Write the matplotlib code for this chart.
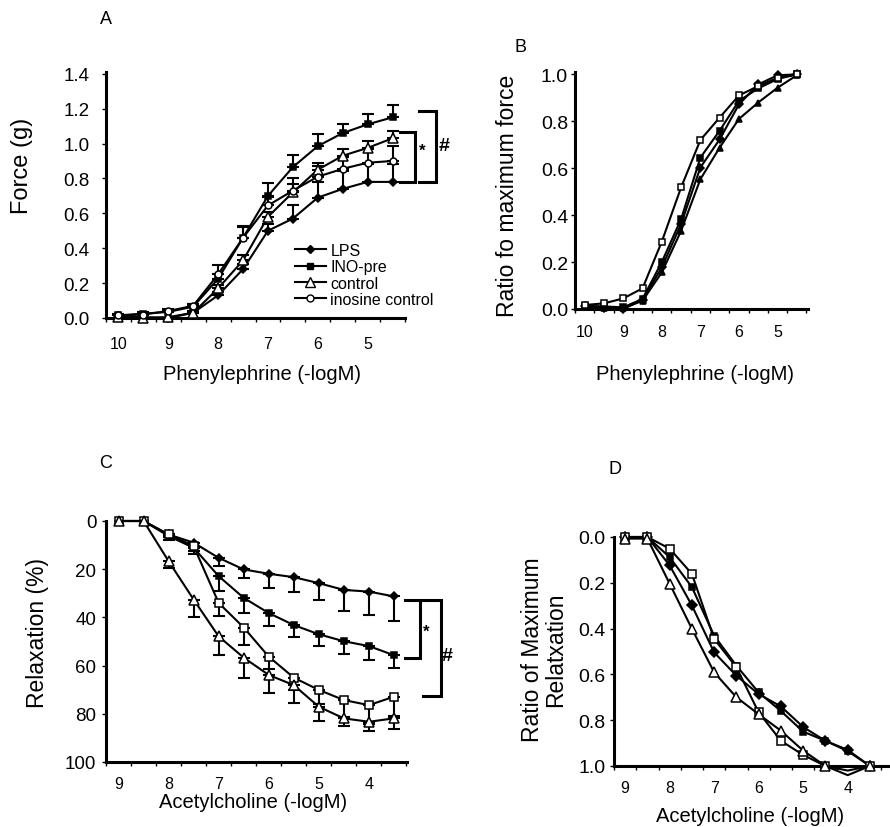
import numpy as np
import matplotlib.pyplot as plt
from matplotlib.lines import Line2D
from matplotlib.ticker import FormatStrFormatter

plt.rcParams['font.family'] = ['Liberation Sans', 'DejaVu Sans']

# ---- data ----
pe_x = [10, 9.5, 9, 8.5, 8, 7.5, 7, 6.5, 6, 5.5, 5, 4.5]
ach_x = [9, 8.5, 8, 7.5, 7, 6.5, 6, 5.5, 5, 4.5, 4, 3.5]

# A: force (g)
force_lps = [0.01, 0.005, 0.0, 0.03, 0.13, 0.28, 0.50, 0.57, 0.69, 0.74, 0.78, 0.78]
force_ino = [0.015, 0.025, 0.035, 0.065, 0.225, 0.46, 0.70, 0.865, 0.985, 1.06, 1.11, 1.15]
force_ctrl = [0.005, 0.0, 0.005, 0.03, 0.17, 0.33, 0.58, 0.72, 0.85, 0.93, 0.975, 1.03]
force_inos = [0.015, 0.02, 0.04, 0.07, 0.25, 0.46, 0.645, 0.73, 0.81, 0.855, 0.89, 0.90]
sem_force_lps = [0, 0, 0, 0.01, 0.02, 0.03, 0.04, 0.075, 0.09, 0.10, 0.10, 0.10]
sem_force_ino = [0.01, 0.01, 0.01, 0.015, 0.03, 0.065, 0.075, 0.07, 0.07, 0.05, 0.06, 0.07]
sem_force_ctrl = [0, 0, 0, 0.01, 0.02, 0.03, 0.03, 0.05, 0.04, 0.04, 0.04, 0.04]
sem_force_inos = [0.01, 0.01, 0.01, 0.01, 0.055, 0.06, 0.05, 0.07, 0.06, 0.07, 0.08, 0.085]

# B: ratio to maximum force
ratio_lps = [0.011, 0.006, 0.0, 0.04, 0.177, 0.362, 0.603, 0.723, 0.872, 0.957, 0.996, 1.0]
ratio_ino = [0.014, 0.011, 0.007, 0.043, 0.20, 0.383, 0.645, 0.76, 0.887, 0.94, 0.98, 1.0]
ratio_ctrl = [0.007, 0.003, 0.003, 0.035, 0.156, 0.333, 0.553, 0.688, 0.81, 0.88, 0.943, 0.996]
ratio_inos = [0.017, 0.024, 0.045, 0.088, 0.287, 0.518, 0.72, 0.816, 0.91, 0.95, 0.985, 1.0]

# C: relaxation (%)
relax_lps = [0, 0, 5.6, 9.0, 15.3, 20.1, 21.9, 23.3, 25.8, 28.6, 29.3, 31.3]
relax_ino = [0, 0, 6.25, 11.1, 22.9, 31.9, 38.2, 43.2, 47.0, 49.9, 51.9, 55.7]
relax_ctrl = [0, 0, 16.7, 32.6, 47.9, 56.7, 63.9, 68.1, 77.1, 81.9, 83.3, 81.9]
relax_inos = [0, 0, 5.6, 10.4, 34.0, 44.2, 56.3, 65.0, 70.1, 74.3, 76.4, 72.9]
sem_relax_lps = [0, 0, 1, 1.5, 3.5, 3.5, 6, 6, 7, 8.8, 9.7, 10.2]
sem_relax_ino = [0, 0, 1.5, 2.5, 6.3, 6.3, 5.3, 4.8, 5, 5.1, 5.9, 5.5]
sem_relax_ctrl = [0, 0, 3, 7.4, 7.5, 8.3, 7.6, 7.5, 5.8, 3, 4, 4.5]
sem_relax_inos = [0, 0, 1, 2, 5.6, 7.2, 5, 5, 6, 7, 8, 8]

# D: ratio of maximum relaxation
rrel_lps = [0.0, 0.0, 0.124, 0.299, 0.504, 0.606, 0.686, 0.74, 0.83, 0.89, 0.93, 1.0]
rrel_ino = [0.0, 0.0, 0.088, 0.219, 0.431, 0.562, 0.679, 0.76, 0.85, 0.89, 0.935, 1.0]
rrel_ctrl = [0.007, 0.007, 0.204, 0.401, 0.591, 0.70, 0.774, 0.846, 0.933, 1.0, 1.04, 1.0]
rrel_inos = [0.0, 0.0, 0.051, 0.161, 0.445, 0.569, 0.766, 0.89, 0.952, 1.0, 1.02, 1.0]

legend_labels = ['LPS', 'INO-pre', 'control', 'inosine control']

W, H = 890, 828
fig = plt.figure(figsize=(W / 100, H / 100), dpi=100)


def px_axes(left, top, right, bottom):
    return fig.add_axes([left / W, 1 - bottom / H, (right - left) / W, (bottom - top) / H])


def style(ax, xlim, ylim, xticks, yticks, minor, ylab_size, xlab_size, ypad, xpad):
    ax.set_xlim(*xlim)
    ax.set_ylim(*ylim)
    for s in ['top', 'right']:
        ax.spines[s].set_visible(False)
    for s in ['left', 'bottom']:
        ax.spines[s].set_linewidth(2.2)
    ax.set_xticks(xticks)
    ax.set_xticklabels([str(int(t)) for t in xticks])
    ax.set_xticks(minor, minor=True)
    ax.set_yticks(yticks)
    ax.tick_params(axis='x', which='major', length=0, labelsize=xlab_size, pad=xpad)
    ax.tick_params(axis='x', which='minor', length=3, width=1, direction='out')
    ax.tick_params(axis='y', which='major', length=3, width=1, direction='out',
                   labelsize=ylab_size, pad=ypad)
    ax.patch.set_visible(False)


def series(ax, x, y, marker, ms, face, sem=None, markevery=None):
    x = np.array(x, dtype=float)
    y = np.array(y, dtype=float)
    if sem is not None:
        sem = np.array(sem, dtype=float)
        m = sem > 0
        ax.errorbar(x[m], y[m], yerr=[np.zeros(m.sum()), sem[m]], fmt='none', ecolor='k',
                    elinewidth=1.5, capsize=4, capthick=1.5, zorder=2)
    ax.plot(x, y, color='k', lw=1.5, marker=marker, ms=ms, mfc=face, mec='k', mew=1.1,
            clip_on=False, zorder=3, markevery=markevery)


def bracket(ax, x0, x1, y0, y1):
    ax.plot([x0, x1, x1, x0], [y0, y0, y1, y1], color='k', lw=2.2, clip_on=False,
            solid_joinstyle='miter')


# ---------------- A ----------------
axA = px_axes(106, 73, 405, 319)
style(axA, (10.18, 4.26), (0, 1.41), [10, 9, 8, 7, 6, 5], np.arange(0, 1.41, 0.2),
      np.arange(10.25, 4.2, -0.5), 13.5, 11.5, 9, 13)
axA.yaxis.set_major_formatter(FormatStrFormatter('%.1f'))
series(axA, pe_x, force_lps, 'D', 4, 'k', sem_force_lps)
series(axA, pe_x, force_ino, 's', 5, 'k', sem_force_ino)
series(axA, pe_x, force_ctrl, '^', 6.5, 'w', sem_force_ctrl)
series(axA, pe_x, force_inos, 'o', 5, 'w', sem_force_inos)
bracket(axA, 4.36, 4.04, 1.065, 0.78)
bracket(axA, 3.96, 3.62, 1.184, 0.78)
axA.text(3.9, 0.96, '*', fontsize=12, fontweight='bold', ha='center', va='center', clip_on=False)
axA.text(3.47, 0.99, '#', fontsize=14, fontweight='bold', ha='center', va='center', clip_on=False)
handles = [
    Line2D([], [], color='k', lw=1.5, marker='D', ms=4, mfc='k', mec='k'),
    Line2D([], [], color='k', lw=1.5, marker='s', ms=5, mfc='k', mec='k'),
    Line2D([], [], color='k', lw=1.5, marker='^', ms=6.5, mfc='w', mec='k'),
    Line2D([], [], color='k', lw=1.5, marker='o', ms=5, mfc='w', mec='k'),
]
axA.legend(handles, legend_labels, loc='upper left', bbox_to_anchor=(0.633, 0.305),
           frameon=False, fontsize=11.5, handlelength=1.9, handletextpad=0.3,
           labelspacing=0.08, borderpad=0, borderaxespad=0)

# ---------------- B ----------------
axB = px_axes(575, 73, 808, 310)
style(axB, (10.23, 4.21), (0, 1.01), [10, 9, 8, 7, 6, 5], np.arange(0, 1.01, 0.2),
      np.arange(10.25, 4.2, -0.5), 14, 11.5, 2, 11)
axB.yaxis.set_major_formatter(FormatStrFormatter('%.1f'))
series(axB, pe_x, ratio_lps, 'D', 4, 'k')
series(axB, pe_x, ratio_ino, 's', 4.5, 'k')
series(axB, pe_x, ratio_ctrl, '^', 5, 'k')
series(axB, pe_x, ratio_inos, 's', 4, 'w')

# ---------------- C ----------------
axC = px_axes(106, 522, 407, 763)
style(axC, (9.22, 3.24), (100, 0), [9, 8, 7, 6, 5, 4], [0, 20, 40, 60, 80, 100],
      np.arange(9.25, 3.2, -0.5), 13.5, 11.5, 4, 10)
series(axC, ach_x, relax_lps, 'D', 4, 'k', sem_relax_lps)
series(axC, ach_x, relax_ino, 's', 5, 'k', sem_relax_ino)
series(axC, ach_x, relax_inos, 's', 5.5, 'w', sem_relax_inos)
series(axC, ach_x, relax_ctrl, '^', 7, 'w', sem_relax_ctrl)
bracket(axC, 3.28, 2.98, 32.8, 56.7)
bracket(axC, 2.92, 2.56, 32.8, 72.5)
axC.text(2.86, 45.7, '*', fontsize=12, fontweight='bold', ha='center', va='center', clip_on=False)
axC.text(2.44, 56, '#', fontsize=14, fontweight='bold', ha='center', va='center', clip_on=False)

# ---------------- D ----------------
axD = px_axes(614, 538, 890, 767)
style(axD, (9.25, 3.05), (1.0, 0.0), [9, 8, 7, 6, 5, 4], np.arange(0, 1.01, 0.2),
      np.arange(9.25, 3.0, -0.5), 14, 11.5, 3, 10)
axD.yaxis.set_major_formatter(FormatStrFormatter('%.1f'))
keep = [i for i in range(len(ach_x)) if i != 10]
series(axD, ach_x, rrel_lps, 'D', 5, 'k')
series(axD, ach_x, rrel_ino, 's', 5, 'k')
series(axD, ach_x, rrel_inos, 's', 5.5, 'w', markevery=keep)
series(axD, ach_x, rrel_ctrl, '^', 7, 'w', markevery=keep)

# ---------------- labels ----------------
def ftext(x, y, s, **kw):
    fig.text(x / W, 1 - y / H, s, ha='center', va='center', **kw)


ftext(106, 20, 'A', fontsize=13)
ftext(521, 47, 'B', fontsize=13)
ftext(106, 464, 'C', fontsize=13)
ftext(615, 470, 'D', fontsize=13)

ftext(22, 166, 'Force (g)', fontsize=17, rotation=90)
ftext(508, 196, 'Ratio fo maximum force', fontsize=16.5, rotation=90)
ftext(38, 633, 'Relaxation (%)', fontsize=16.5, rotation=90)
ftext(544, 650, 'Ratio of Maximum\nRelatxation', fontsize=16.5, rotation=90, linespacing=1.0)

ftext(262, 375, 'Phenylephrine (-logM)', fontsize=14.5)
ftext(695, 375, 'Phenylephrine (-logM)', fontsize=14.5)
ftext(253, 803, 'Acetylcholine (-logM)', fontsize=14.5)
ftext(750, 817, 'Acetylcholine (-logM)', fontsize=14.5)

fig.savefig('out.png', dpi=100)
